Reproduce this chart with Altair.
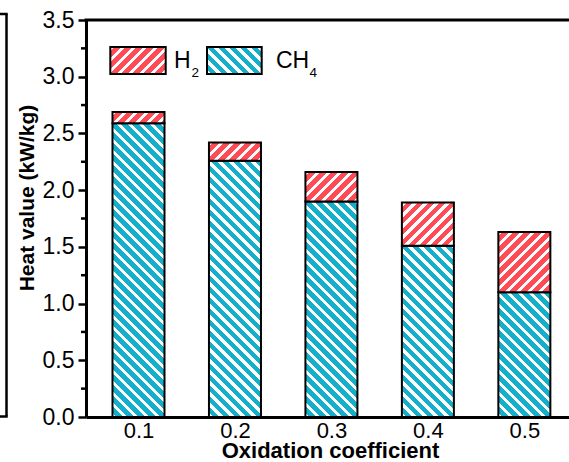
import altair as alt
import pandas as pd

# Heat value split by gas for each oxidation coefficient (kW/kg)
coef = [0.1, 0.2, 0.3, 0.4, 0.5]
ch4 = [2.59, 2.26, 1.90, 1.51, 1.10]
h2 = [0.10, 0.16, 0.26, 0.38, 0.53]

y_major = [0.0, 0.5, 1.0, 1.5, 2.0, 2.5, 3.0, 3.5]
y_minor = [0.25, 0.75, 1.25, 1.75, 2.25, 2.75, 3.25]

RED = "#FF4B55"
CYAN = "#15AECB"
INK = "black"
FONT = "Liberation Sans"

W, H = 483, 397
X_DOM = [0.05076, 0.5411]
Y_DOM = [0.0, 3.5]
BAR_W = 52
PERIOD, GAP = 11.0, 4.5   # hatch spacing and white-stripe width, in px along x


def hatch(w, h, color, rising):
    """45-degree striped fill for a w x h box (gradient in bounding-box units)."""
    span = w + h
    k = span / (w * w + h * h)
    if rising:
        x1, y1, x2, y2 = 0.0, 0.0, w * k, h * k
    else:
        x1, y1, x2, y2 = 0.0, 1.0, w * k, 1.0 - h * k
    stops = []
    s = 0.0
    while s < span:
        for off, c in ((s, "white"), (s + GAP, "white"), (s + GAP, color), (s + PERIOD, color)):
            stops.append({"offset": min(off / span, 1.0), "color": c})
        s += PERIOD
    return alt.LinearGradient(gradient="linear", stops=stops, x1=x1, y1=y1, x2=x2, y2=y2)


df = pd.DataFrame({"coef": coef, "ch4": ch4, "h2": h2})
df["total"] = df["ch4"] + df["h2"]
df["idx"] = list(range(len(coef)))

px_per_unit = H / (Y_DOM[1] - Y_DOM[0])

x_scale = alt.Scale(domain=X_DOM, nice=False, zero=False)
y_scale = alt.Scale(domain=Y_DOM, nice=False)

x_axis = alt.Axis(
    values=coef, format=".1f", title="Oxidation coefficient", grid=False,
    ticks=False, tickSize=0, domainColor=INK, domainWidth=3,
    labelFont=FONT, labelFontSize=22, labelColor=INK, labelPadding=3,
    labelFlush=False, labelOverlap=False,
    titleFont=FONT, titleFontSize=22, titleFontWeight="bold", titleColor=INK,
    titleX=244, titleY=40, titleBaseline="alphabetic",
)
y_axis = alt.Axis(
    values=y_major, format=".1f", title="Heat value (kW/kg)", grid=False,
    domainColor=INK, domainWidth=3, tickColor=INK, tickWidth=2.5, tickSize=8,
    labelFont=FONT, labelFontSize=23, labelColor=INK, labelPadding=4,
    labelFlush=False, labelOverlap=False,
    titleFont=FONT, titleFontSize=21, titleFontWeight="bold", titleColor=INK,
    titleX=-53, titleY=177.5, titleBaseline="alphabetic",
)

X = alt.X("coef:Q", scale=x_scale, axis=x_axis)

layers = []
for i in range(len(coef)):
    h_ch4 = ch4[i] * px_per_unit
    h_h2 = h2[i] * px_per_unit
    base = alt.Chart(df).transform_filter(alt.datum.idx == i)
    ch4_bar = base.mark_bar(
        size=BAR_W, fill=hatch(BAR_W, h_ch4, CYAN, False), stroke=INK, strokeWidth=2
    ).encode(
        x=X,
        y=alt.Y("ch4:Q", scale=y_scale, axis=y_axis),
    )
    h2_bar = base.mark_bar(
        size=BAR_W, fill=hatch(BAR_W, h_h2, RED, True), stroke=INK, strokeWidth=2
    ).encode(
        x=X,
        y=alt.Y("ch4:Q", scale=y_scale, axis=y_axis),
        y2="total:Q",
    )
    layers += [ch4_bar, h2_bar]

# minor ticks on the value axis
minor = alt.Chart(pd.DataFrame({"v": y_minor})).mark_rule(
    color=INK, strokeWidth=2.5
).encode(
    y=alt.Y("v:Q", scale=y_scale, axis=y_axis),
    x=alt.value(-5), x2=alt.value(0),
)

one = pd.DataFrame({"d": [0]})

# top frame line
top_line = alt.Chart(one).mark_rule(color=INK, strokeWidth=3).encode(
    x=alt.value(-1.5), x2=alt.value(W), y=alt.value(0)
)

# edge of the neighbouring panel
side_v = alt.Chart(one).mark_rule(color=INK, strokeWidth=2.5).encode(
    x=alt.value(-79.5), y=alt.value(-6), y2=alt.value(396.5)
)
side_t = alt.Chart(one).mark_rule(color=INK, strokeWidth=2.5).encode(
    x=alt.value(-90), x2=alt.value(-78.3), y=alt.value(-6)
)
side_b = alt.Chart(one).mark_rule(color=INK, strokeWidth=2.5).encode(
    x=alt.value(-90), x2=alt.value(-78.3), y=alt.value(396.5)
)

# legend
leg_red = alt.Chart(one).mark_rect(
    fill=hatch(55.4, 27, RED, True), stroke=INK, strokeWidth=2
).encode(x=alt.value(24.3), x2=alt.value(79.7), y=alt.value(27), y2=alt.value(54))
leg_cyan = alt.Chart(one).mark_rect(
    fill=hatch(54.7, 27, CYAN, False), stroke=INK, strokeWidth=2
).encode(x=alt.value(121), x2=alt.value(175.7), y=alt.value(27), y2=alt.value(54))


def label(txt, x, y, size):
    return alt.Chart(one).mark_text(
        text=txt, font=FONT, fontSize=size, color=INK, align="left", baseline="alphabetic"
    ).encode(x=alt.value(x), y=alt.value(y))


legend_text = [
    label("H", 88, 48.3, 23),
    label("2", 105.5, 56.5, 13.5),
    label("CH", 190, 48.3, 23),
    label("4", 223.5, 56.5, 13.5),
]

chart = alt.layer(
    *layers, minor, top_line, side_v, side_t, side_b, leg_red, leg_cyan, *legend_text
).properties(
    width=W, height=H,
    autosize=alt.AutoSizeParams(type="none"),
    padding={"left": 86, "top": 20, "right": 0, "bottom": 45},
    background="white",
).configure_view(stroke=None)

chart.save("out.html", embed_options={"renderer": "svg", "actions": False})
